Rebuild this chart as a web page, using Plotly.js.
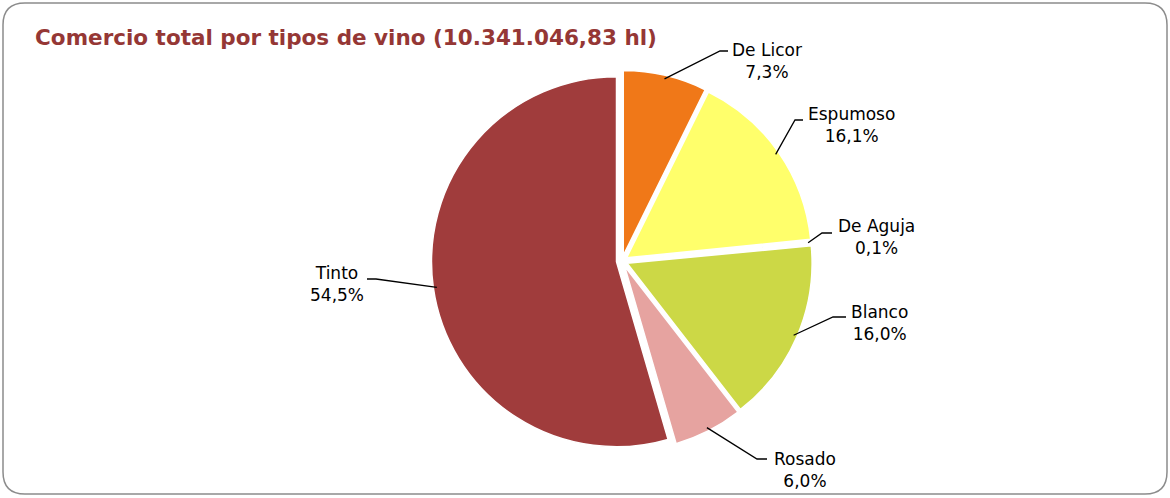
<!DOCTYPE html>
<html><head><meta charset="utf-8">
<script src="https://cdn.plot.ly/plotly-3.0.1.min.js"></script>
<style>html,body{margin:0;padding:0;background:#fff}#chart{width:1170px;height:498px}</style>
</head><body><div id="chart"></div>
<script>
const categories = ["De Licor", "Espumoso", "De Aguja", "Blanco", "Rosado", "Tinto"];
const values = [7.3, 16.1, 0.1, 16.0, 6.0, 54.5];
const valueLabels = ["7,3%", "16,1%", "0,1%", "16,0%", "6,0%", "54,5%"];
const colors = ["#F07818", "#FFFF6B", "#F0B0A0", "#CCD846", "#E6A3A0", "#A03C3C"];
const titleText = "Comercio total por tipos de vino (10.341.046,83 hl)";

const W = 1170, H = 498;
const px = x => x / W, py = y => 1 - y / H;
const cx = 622, cy = 261, R = 185, pull = 0.03;
const half = R * (1 + pull);

// label placement (pixels): elbow, tick end, text centre
const labelPos = [
  {ex: 720, ey: 51, hx: 728, tx: 767, ty: 61},
  {ex: 795, ey: 120, hx: 803, tx: 851, ty: 125},
  {ex: 822, ey: 233, hx: 832, tx: 876, ty: 237},
  {ex: 833, ey: 317, hx: 846, tx: 879, ty: 323},
  {ex: 757, ey: 459, hx: 767, tx: 805, ty: 470},
  {ex: 376, ey: 279, hx: 367, tx: 337, ty: 284}
];

const total = values.reduce((a, b) => a + b, 0);
let cum = 0;
const shapes = [];
const annotations = [];
values.forEach((v, i) => {
  const mid = (cum + v / 2) / total * 2 * Math.PI;
  cum += v;
  const tipx = cx + (R + 2) * Math.sin(mid);
  const tipy = cy - (R + 2) * Math.cos(mid);
  const L = labelPos[i];
  shapes.push({type: "path", xref: "paper", yref: "paper",
    path: `M${px(tipx)},${py(tipy)} L${px(L.ex)},${py(L.ey)} L${px(L.hx)},${py(L.ey)}`,
    line: {color: "#000", width: 1.3}});
  annotations.push({xref: "paper", yref: "paper", x: px(L.tx), y: py(L.ty),
    xanchor: "center", yanchor: "middle", showarrow: false,
    text: categories[i] + "<br>" + valueLabels[i],
    font: {family: "DejaVu Sans", size: 17, color: "#000"}});
});

// rounded border
const r = 22, x0 = 3, y0 = 3, x1 = 1167, y1 = 494;
shapes.push({type: "path", xref: "paper", yref: "paper", layer: "below",
  path: `M${px(x0 + r)},${py(y0)} L${px(x1 - r)},${py(y0)} Q${px(x1)},${py(y0)} ${px(x1)},${py(y0 + r)} ` +
        `L${px(x1)},${py(y1 - r)} Q${px(x1)},${py(y1)} ${px(x1 - r)},${py(y1)} ` +
        `L${px(x0 + r)},${py(y1)} Q${px(x0)},${py(y1)} ${px(x0)},${py(y1 - r)} ` +
        `L${px(x0)},${py(y0 + r)} Q${px(x0)},${py(y0)} ${px(x0 + r)},${py(y0)} Z`,
  line: {color: "#8C8C8C", width: 1.5}});

const data = [{
  type: "pie", labels: categories, values: values, sort: false,
  direction: "clockwise", rotation: 0, textinfo: "none", hoverinfo: "label+percent",
  pull: values.map(() => pull),
  marker: {colors: colors, line: {color: "#ffffff", width: 1.5}},
  domain: {x: [px(cx - half), px(cx + half)], y: [py(cy + half), py(cy - half)]},
  showlegend: false
}];

const layout = {
  width: W, height: H, margin: {l: 0, r: 0, t: 0, b: 0},
  paper_bgcolor: "#ffffff", showlegend: false,
  title: {text: "<b>" + titleText + "</b>", x: 0.03, xanchor: "left", y: py(37), yanchor: "middle",
    font: {family: "DejaVu Sans", size: 21.5, color: "#953735"}},
  shapes: shapes, annotations: annotations
};
Plotly.newPlot("chart", data, layout, {displayModeBar: false, staticPlot: true});
</script></body></html>
